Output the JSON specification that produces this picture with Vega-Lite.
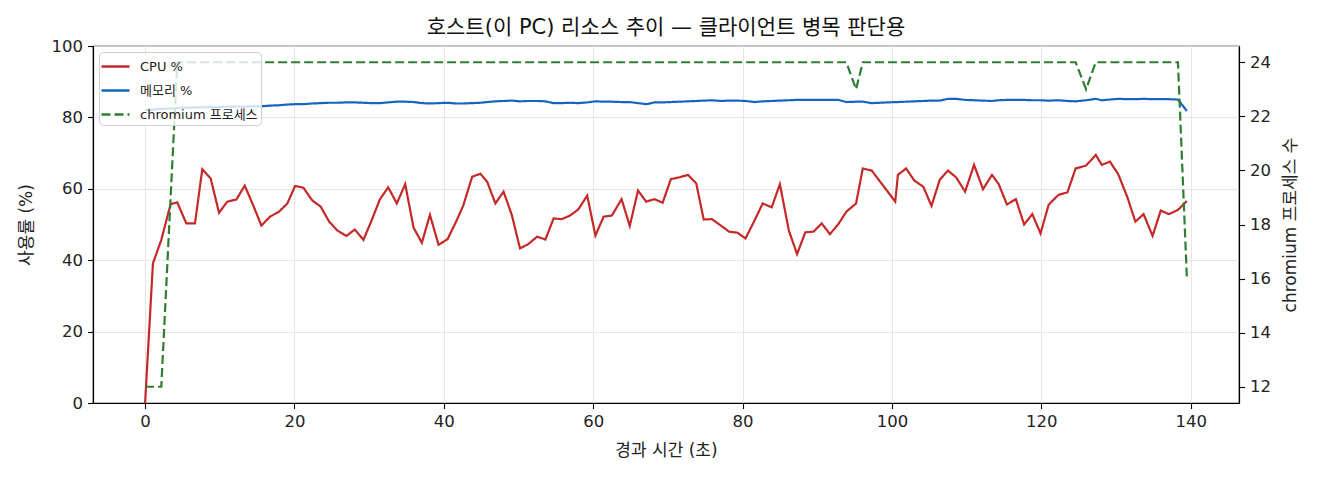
{
  "$schema": "https://vega.github.io/schema/vega-lite/v6.json",
  "autosize": {"type": "none"},
  "width": 1146,
  "height": 357,
  "padding": {"left": 93, "top": 46, "right": 81, "bottom": 77},
  "background": "white",
  "view": {"stroke": "black", "strokeWidth": 1.2},
  "config": {
    "font": "DejaVu Sans, Noto Sans CJK KR",
    "axis": {
      "labelFont": "DejaVu Sans, Noto Sans CJK KR", "titleFont": "DejaVu Sans, Noto Sans CJK KR",
      "labelFontSize": 16.5, "titleFontSize": 17, "titleFontWeight": "normal",
      "labelColor": "#222", "titleColor": "#222",
      "domainColor": "black", "domainWidth": 1.2,
      "tickColor": "black", "tickSize": 5.5, "tickWidth": 1.1,
      "labelPadding": 5, "gridColor": "#e3e3e3", "gridWidth": 0.9
    }
  },
  "title": {
    "text": "호스트(이 PC) 리소스 추이 — 클라이언트 병목 판단용",
    "font": "DejaVu Sans, Noto Sans CJK KR", "fontSize": 21, "fontWeight": "normal", "color": "#111", "offset": 0
  },
  "data": {
    "values": [
      {"t": 0, "cpu": 0, "mem": 82.0, "proc": 12},
      {"t": 1.05, "cpu": 39.1, "mem": 82.2, "proc": 12},
      {"t": 2.17, "cpu": 45.7, "mem": 82.4, "proc": 12},
      {"t": 3.42, "cpu": 55.7, "mem": 82.5, "proc": 19},
      {"t": 4.31, "cpu": 56.2, "mem": 82.6, "proc": 24},
      {"t": 5.52, "cpu": 50.3, "mem": 82.7, "proc": 24},
      {"t": 6.68, "cpu": 50.3, "mem": 82.8, "proc": 24},
      {"t": 7.66, "cpu": 65.5, "mem": 82.8, "proc": 24},
      {"t": 8.78, "cpu": 62.9, "mem": 82.9, "proc": 24},
      {"t": 9.9, "cpu": 53.3, "mem": 82.9, "proc": 24},
      {"t": 11.01, "cpu": 56.4, "mem": 83.0, "proc": 24},
      {"t": 12.22, "cpu": 57.0, "mem": 83.0, "proc": 24},
      {"t": 13.34, "cpu": 60.9, "mem": 83.0, "proc": 24},
      {"t": 14.45, "cpu": 55.5, "mem": 83.1, "proc": 24},
      {"t": 15.57, "cpu": 49.7, "mem": 83.1, "proc": 24},
      {"t": 16.73, "cpu": 52.2, "mem": 83.3, "proc": 24},
      {"t": 17.94, "cpu": 53.6, "mem": 83.4, "proc": 24},
      {"t": 19.05, "cpu": 55.9, "mem": 83.6, "proc": 24},
      {"t": 20.08, "cpu": 60.8, "mem": 83.7, "proc": 24},
      {"t": 21.2, "cpu": 60.3, "mem": 83.7, "proc": 24},
      {"t": 22.4, "cpu": 56.7, "mem": 83.9, "proc": 24},
      {"t": 23.52, "cpu": 55.0, "mem": 84.0, "proc": 24},
      {"t": 24.64, "cpu": 50.8, "mem": 84.1, "proc": 24},
      {"t": 25.75, "cpu": 48.3, "mem": 84.1, "proc": 24},
      {"t": 26.96, "cpu": 46.8, "mem": 84.2, "proc": 24},
      {"t": 28.08, "cpu": 48.6, "mem": 84.2, "proc": 24},
      {"t": 29.24, "cpu": 45.7, "mem": 84.1, "proc": 24},
      {"t": 30.36, "cpu": 51.3, "mem": 84.0, "proc": 24},
      {"t": 31.43, "cpu": 57.0, "mem": 84.0, "proc": 24},
      {"t": 32.55, "cpu": 60.4, "mem": 84.2, "proc": 24},
      {"t": 33.71, "cpu": 55.9, "mem": 84.4, "proc": 24},
      {"t": 34.83, "cpu": 61.3, "mem": 84.4, "proc": 24},
      {"t": 35.95, "cpu": 49.1, "mem": 84.3, "proc": 24},
      {"t": 37.06, "cpu": 44.9, "mem": 84.0, "proc": 24},
      {"t": 38.14, "cpu": 52.7, "mem": 83.9, "proc": 24},
      {"t": 39.3, "cpu": 44.3, "mem": 84.0, "proc": 24},
      {"t": 40.5, "cpu": 45.9, "mem": 84.1, "proc": 24},
      {"t": 41.6, "cpu": 50.6, "mem": 83.9, "proc": 24},
      {"t": 42.6, "cpu": 55.3, "mem": 83.9, "proc": 24},
      {"t": 43.8, "cpu": 63.4, "mem": 84.0, "proc": 24},
      {"t": 44.9, "cpu": 64.2, "mem": 84.1, "proc": 24},
      {"t": 45.8, "cpu": 62.0, "mem": 84.3, "proc": 24},
      {"t": 46.9, "cpu": 55.9, "mem": 84.5, "proc": 24},
      {"t": 48.0, "cpu": 59.2, "mem": 84.6, "proc": 24},
      {"t": 49.1, "cpu": 52.7, "mem": 84.7, "proc": 24},
      {"t": 50.2, "cpu": 43.3, "mem": 84.5, "proc": 24},
      {"t": 51.3, "cpu": 44.5, "mem": 84.6, "proc": 24},
      {"t": 52.5, "cpu": 46.6, "mem": 84.6, "proc": 24},
      {"t": 53.6, "cpu": 45.8, "mem": 84.5, "proc": 24},
      {"t": 54.7, "cpu": 51.7, "mem": 84.0, "proc": 24},
      {"t": 55.8, "cpu": 51.5, "mem": 84.0, "proc": 24},
      {"t": 56.9, "cpu": 52.5, "mem": 84.1, "proc": 24},
      {"t": 58.0, "cpu": 54.2, "mem": 84.0, "proc": 24},
      {"t": 59.2, "cpu": 58.1, "mem": 84.2, "proc": 24},
      {"t": 60.3, "cpu": 46.9, "mem": 84.5, "proc": 24},
      {"t": 61.4, "cpu": 52.2, "mem": 84.4, "proc": 24},
      {"t": 62.5, "cpu": 52.5, "mem": 84.4, "proc": 24},
      {"t": 63.8, "cpu": 57.1, "mem": 84.3, "proc": 24},
      {"t": 64.9, "cpu": 49.6, "mem": 84.3, "proc": 24},
      {"t": 66.0, "cpu": 59.5, "mem": 84.0, "proc": 24},
      {"t": 67.1, "cpu": 56.4, "mem": 83.7, "proc": 24},
      {"t": 68.2, "cpu": 57.1, "mem": 84.2, "proc": 24},
      {"t": 69.3, "cpu": 56.1, "mem": 84.2, "proc": 24},
      {"t": 70.4, "cpu": 62.7, "mem": 84.3, "proc": 24},
      {"t": 71.5, "cpu": 63.2, "mem": 84.4, "proc": 24},
      {"t": 72.7, "cpu": 63.9, "mem": 84.5, "proc": 24},
      {"t": 73.8, "cpu": 61.5, "mem": 84.6, "proc": 24},
      {"t": 74.8, "cpu": 51.4, "mem": 84.7, "proc": 24},
      {"t": 75.9, "cpu": 51.5, "mem": 84.8, "proc": 24},
      {"t": 77.1, "cpu": 49.7, "mem": 84.6, "proc": 24},
      {"t": 78.2, "cpu": 48.0, "mem": 84.7, "proc": 24},
      {"t": 79.3, "cpu": 47.7, "mem": 84.7, "proc": 24},
      {"t": 80.4, "cpu": 46.1, "mem": 84.6, "proc": 24},
      {"t": 81.6, "cpu": 51.1, "mem": 84.3, "proc": 24},
      {"t": 82.7, "cpu": 55.9, "mem": 84.5, "proc": 24},
      {"t": 83.9, "cpu": 54.8, "mem": 84.6, "proc": 24},
      {"t": 85.0, "cpu": 61.3, "mem": 84.7, "proc": 24},
      {"t": 86.2, "cpu": 48.3, "mem": 84.8, "proc": 24},
      {"t": 87.3, "cpu": 41.7, "mem": 84.9, "proc": 24},
      {"t": 88.4, "cpu": 47.8, "mem": 84.9, "proc": 24},
      {"t": 89.5, "cpu": 48.0, "mem": 84.9, "proc": 24},
      {"t": 90.6, "cpu": 50.3, "mem": 84.9, "proc": 24},
      {"t": 91.7, "cpu": 47.3, "mem": 84.9, "proc": 24},
      {"t": 92.8, "cpu": 50.0, "mem": 84.9, "proc": 24},
      {"t": 93.9, "cpu": 53.6, "mem": 84.3, "proc": 24},
      {"t": 95.2, "cpu": 55.9, "mem": 84.4, "proc": 23},
      {"t": 96.1, "cpu": 65.7, "mem": 84.4, "proc": 24},
      {"t": 97.3, "cpu": 65.1, "mem": 84.0, "proc": 24},
      {"t": 100.45, "cpu": 56.4, "mem": 84.3, "proc": 24},
      {"t": 100.8, "cpu": 63.9, "mem": 84.3, "proc": 24},
      {"t": 101.9, "cpu": 65.7, "mem": 84.4, "proc": 24},
      {"t": 103.0, "cpu": 62.3, "mem": 84.5, "proc": 24},
      {"t": 104.2, "cpu": 60.6, "mem": 84.6, "proc": 24},
      {"t": 105.3, "cpu": 55.2, "mem": 84.7, "proc": 24},
      {"t": 106.4, "cpu": 62.5, "mem": 84.7, "proc": 24},
      {"t": 107.5, "cpu": 65.1, "mem": 85.2, "proc": 24},
      {"t": 108.6, "cpu": 63.2, "mem": 85.2, "proc": 24},
      {"t": 109.8, "cpu": 59.2, "mem": 84.9, "proc": 24},
      {"t": 111.0, "cpu": 66.7, "mem": 84.8, "proc": 24},
      {"t": 112.2, "cpu": 59.9, "mem": 84.7, "proc": 24},
      {"t": 113.4, "cpu": 63.9, "mem": 84.6, "proc": 24},
      {"t": 114.3, "cpu": 61.3, "mem": 84.8, "proc": 24},
      {"t": 115.4, "cpu": 55.6, "mem": 84.9, "proc": 24},
      {"t": 116.6, "cpu": 57.1, "mem": 84.9, "proc": 24},
      {"t": 117.7, "cpu": 50.0, "mem": 84.9, "proc": 24},
      {"t": 118.8, "cpu": 52.9, "mem": 84.8, "proc": 24},
      {"t": 119.9, "cpu": 47.5, "mem": 84.8, "proc": 24},
      {"t": 121.0, "cpu": 55.6, "mem": 84.7, "proc": 24},
      {"t": 122.3, "cpu": 58.3, "mem": 84.8, "proc": 24},
      {"t": 123.5, "cpu": 59.0, "mem": 84.6, "proc": 24},
      {"t": 124.6, "cpu": 65.7, "mem": 84.5, "proc": 24},
      {"t": 126.0, "cpu": 66.5, "mem": 84.8, "proc": 23},
      {"t": 127.3, "cpu": 69.5, "mem": 85.2, "proc": 24},
      {"t": 128.1, "cpu": 66.7, "mem": 84.8, "proc": 24},
      {"t": 129.2, "cpu": 67.6, "mem": 85.0, "proc": 24},
      {"t": 130.3, "cpu": 64.1, "mem": 85.2, "proc": 24},
      {"t": 131.5, "cpu": 57.8, "mem": 85.1, "proc": 24},
      {"t": 132.6, "cpu": 50.8, "mem": 85.1, "proc": 24},
      {"t": 133.7, "cpu": 52.9, "mem": 85.2, "proc": 24},
      {"t": 134.9, "cpu": 46.8, "mem": 85.1, "proc": 24},
      {"t": 136.0, "cpu": 53.9, "mem": 85.1, "proc": 24},
      {"t": 137.1, "cpu": 52.9, "mem": 85.1, "proc": 24},
      {"t": 138.3, "cpu": 54.1, "mem": 85.0, "proc": 24},
      {"t": 139.5, "cpu": 56.6, "mem": 81.8, "proc": 16}
    ]
  },
  "transform": [
    {"fold": ["cpu", "mem", "proc"], "as": ["series", "value"]}
  ],
  "encoding": {
    "x": {
      "field": "t", "type": "quantitative",
      "scale": {"domain": [-6.975, 146.475], "nice": false, "zero": false},
      "axis": {"values": [0, 20, 40, 60, 80, 100, 120, 140], "title": "경과 시간 (초)", "titlePadding": 12, "grid": true}
    },
    "color": {
      "field": "series", "type": "nominal",
      "scale": {"domain": ["cpu", "mem", "proc"], "range": ["#c62828", "#1565c0", "#2e7d32"]},
      "legend": {
        "title": null, "orient": "none", "legendX": 6, "legendY": 6,
        "labelExpr": "datum.value == 'cpu' ? 'CPU %' : datum.value == 'mem' ? '메모리 %' : 'chromium 프로세스'",
        "labelFont": "DejaVu Sans, Noto Sans CJK KR", "labelFontSize": 13, "labelColor": "#222",
        "symbolType": "M-1.2,0H1.6", "symbolSize": 400, "symbolStrokeWidth": 2.3,
        "rowPadding": 5, "padding": 3, "labelOffset": 15,
        "fillColor": "rgba(255,255,255,0.8)", "strokeColor": "#d0d0d0", "cornerRadius": 4
      }
    },
    "strokeDash": {
      "field": "series", "type": "nominal",
      "scale": {"domain": ["cpu", "mem", "proc"], "range": [[1, 0], [1, 0], [9, 4]]},
      "legend": null
    }
  },
  "layer": [
    {
      "transform": [{"filter": "datum.series != 'proc'"}],
      "mark": {"type": "line", "strokeWidth": 2.2},
      "encoding": {
        "y": {
          "field": "value", "type": "quantitative",
          "scale": {"domain": [0, 100], "nice": false},
          "axis": {"values": [0, 20, 40, 60, 80, 100], "title": "사용률 (%)", "titlePadding": 16, "grid": true}
        }
      }
    },
    {
      "transform": [{"filter": "datum.series == 'proc'"}],
      "mark": {"type": "line", "strokeWidth": 2.2},
      "encoding": {
        "y": {
          "field": "value", "type": "quantitative",
          "scale": {"domain": [11.4, 24.6], "nice": false, "zero": false},
          "axis": {"orient": "right", "values": [12, 14, 16, 18, 20, 22, 24], "title": "chromium 프로세스 수", "titleAngle": 270, "titlePadding": 29, "grid": false}
        }
      }
    }
  ],
  "resolve": {"scale": {"y": "independent", "color": "shared", "strokeDash": "shared"}}
}
